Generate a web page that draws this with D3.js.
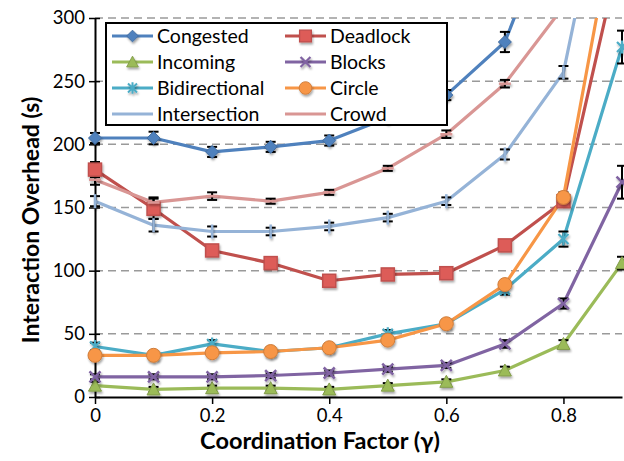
<!DOCTYPE html>
<html><head><meta charset="utf-8">
<script src="https://cdn.jsdelivr.net/npm/d3@7"></script>
<style>
html,body{margin:0;padding:0;background:#fff;}
svg{display:block;}
text{font-family:Lato, "Open Sans", sans-serif;}
</style></head>
<body>
<script>
const xValues = [0, 0.1, 0.2, 0.3, 0.4, 0.5, 0.6, 0.7, 0.8, 0.9];
const seriesNames = ["Congested","Deadlock","Incoming","Blocks","Bidirectional","Circle","Intersection","Crowd"];
const congested     = [205, 205, 194, 198, 203, 221, 239, 281, 400, 520];
const deadlock      = [180, 149, 116, 106, 92, 97, 98, 120, 155, 358];
const incoming      = [9, 6, 7, 7, 6, 9, 12, 21, 42, 106];
const blocks        = [16, 16, 16, 17, 19, 22, 25, 42, 74, 170];
const bidirectional = [40, 33, 42, 36, 39, 50, 58, 85, 125, 277];
const circle        = [33, 33, 35, 36, 39, 45, 58, 89, 158, 410];
const intersection  = [155, 136, 131, 131, 135, 142, 155, 192, 257, 480];
const crowd         = [172, 154, 159, 155, 162, 181, 208, 248, 309, 420];
const congestedErr     = [4, 5, 4, 4, 4, 4, 4, 8, 0, 0];
const deadlockErr      = [6, 8, 4, 3, 3, 3, 3, 3, 4, 0];
const incomingErr      = [3, 2, 2, 2, 2, 2, 2, 3, 3, 5];
const blocksErr        = [2, 2, 2, 2, 2, 2, 2, 3, 4, 13];
const bidirectionalErr = [3, 2, 3, 2, 2, 3, 3, 4, 6, 13];
const circleErr        = [2, 2, 2, 2, 2, 2, 2, 3, 4, 0];
const intersectionErr  = [4, 5, 4, 3, 3, 3, 3, 4, 5, 0];
const crowdErr         = [4, 4, 3, 2, 2, 2, 3, 3, 0, 0];
const yTicks = [0, 50, 100, 150, 200, 250, 300];
const xTicks = [0, 0.2, 0.4, 0.6, 0.8];
const xTitle = "Coordination Factor (γ)";
const yTitle = "Interaction Overhead (s)";

const seriesValues = [congested, deadlock, incoming, blocks, bidirectional, circle, intersection, crowd];
const seriesErrors = [congestedErr, deadlockErr, incomingErr, blocksErr, bidirectionalErr, circleErr, intersectionErr, crowdErr];
const colors = ["#4F81BD","#C0504D","#9BBB59","#8064A2","#4BACC6","#F79646","#95B3D7","#D99694"];
const markers = ["diamond","square","triangle","x","asterisk","circle","plus","dash"];

const W = 624, H = 461;
const svg = d3.select("body").append("svg").attr("width", W).attr("height", H);

const x = d3.scaleLinear().domain([0, 0.9]).range([95, 622]);
const y = d3.scaleLinear().domain([0, 300]).range([397, 18]);

const defs = svg.append("defs");
defs.append("clipPath").attr("id","plotclip").append("rect")
  .attr("x", 0).attr("y", y(300)).attr("width", W).attr("height", y(0) - y(300) + 20);
const f = defs.append("filter").attr("id","shadow").attr("x","-50%").attr("y","-50%").attr("width","200%").attr("height","200%");
f.append("feDropShadow").attr("dx",1).attr("dy",2).attr("stdDeviation",1.2).attr("flood-color","#000").attr("flood-opacity",0.35);

// gridlines
svg.append("g").selectAll("line").data(yTicks.filter(d => d > 0)).join("line")
  .attr("x1", x(0)).attr("x2", x(0.9)).attr("y1", d => y(d)).attr("y2", d => y(d))
  .attr("stroke", "#9a9a9a").attr("stroke-width", 1.5).attr("stroke-dasharray", "8,5");

// axes
const yAxis = d3.axisLeft(y).tickValues(yTicks).tickSizeInner(6).tickSizeOuter(0).tickPadding(4);
const gy = svg.append("g").attr("transform", `translate(${x(0)},0)`).call(yAxis);
gy.select(".domain").attr("stroke","#000").attr("stroke-width",2);
gy.selectAll(".tick line").attr("stroke","#000").attr("stroke-width",1.5).attr("x2",-6).attr("x1",5);
gy.selectAll(".tick text").attr("font-size",18.5).attr("fill","#000").attr("x",-10);

const gx = svg.append("g").attr("transform", `translate(0,${y(0)})`).call(d3.axisBottom(x).tickValues(xTicks)
  .tickFormat(d => d === 0 ? "0" : d3.format(".1f")(d)).tickSizeInner(7).tickSizeOuter(0).tickPadding(5));
gx.select(".domain").attr("stroke","#000").attr("stroke-width",2);
gx.selectAll(".tick line").attr("stroke","#000").attr("stroke-width",1.5);
gx.selectAll(".tick text").attr("font-size",18.5).attr("fill","#000");

// titles
svg.append("text").attr("x", 320).attr("y", 449).attr("text-anchor","middle")
  .attr("font-size", 23.5).attr("font-weight","bold").attr("fill","#000").text(xTitle);
svg.append("text").attr("transform","translate(39,220) rotate(-90)").attr("text-anchor","middle")
  .attr("font-size", 23).attr("font-weight","bold").attr("fill","#000").text(yTitle);

function drawMarker(g, type, color, cx, cy, scale) {
  const s = scale || 1;
  const t = g.append("g").attr("transform", `translate(${cx},${cy}) scale(${s})`);
  const dark = d3.color(color).darker(0.5).formatHex();
  if (type === "diamond") {
    t.append("path").attr("d","M0,-6.5L6.5,0L0,6.5L-6.5,0Z").attr("fill",color).attr("stroke",dark).attr("stroke-width",1);
  } else if (type === "square") {
    t.append("rect").attr("x",-6.5).attr("y",-6.5).attr("width",13).attr("height",13).attr("fill",d3.color(color).brighter(0.4).formatHex()).attr("stroke",color).attr("stroke-width",1.5);
  } else if (type === "triangle") {
    t.append("path").attr("d","M0,-6.5L6.5,5.5L-6.5,5.5Z").attr("fill",color).attr("stroke",dark).attr("stroke-width",1);
  } else if (type === "x") {
    t.append("path").attr("d","M-5.5,-5.5L5.5,5.5M-5.5,5.5L5.5,-5.5").attr("stroke",color).attr("stroke-width",2.5);
  } else if (type === "asterisk") {
    t.append("path").attr("d","M-5,-5L5,5M-5,5L5,-5M0,-6.5L0,6.5").attr("stroke",color).attr("stroke-width",2.2);
  } else if (type === "circle") {
    t.append("circle").attr("r",7).attr("fill",color).attr("stroke",dark).attr("stroke-width",1);
  } else if (type === "plus") {
    t.append("path").attr("d","M0,-7L0,7").attr("stroke",color).attr("stroke-width",2.5);
  } else if (type === "dash") {
    t.append("path").attr("d","M-6,0L6,0").attr("stroke",color).attr("stroke-width",2.5);
  }
}

const plot = svg.append("g").attr("clip-path","url(#plotclip)");
const line = d3.line().x((d,i) => x(xValues[i])).y(d => y(d));

seriesValues.forEach((vals, si) => {
  plot.append("path").datum(vals).attr("d", line).attr("fill","none")
    .attr("stroke", colors[si]).attr("stroke-width", 3.2).attr("stroke-linejoin","round");
});
seriesValues.forEach((vals, si) => {
  const errs = seriesErrors[si];
  vals.forEach((v, i) => {
    const e = errs[i];
    if (!e || v > 300) return;
    const cx = x(xValues[i]);
    const g = plot.append("g").attr("stroke","#000").attr("stroke-width",2);
    g.append("line").attr("x1",cx).attr("x2",cx).attr("y1",y(v+e)).attr("y2",y(v-e));
    g.append("line").attr("x1",cx-5).attr("x2",cx+5).attr("y1",y(v+e)).attr("y2",y(v+e));
    g.append("line").attr("x1",cx-5).attr("x2",cx+5).attr("y1",y(v-e)).attr("y2",y(v-e));
  });
});
seriesValues.forEach((vals, si) => {
  const mg = plot.append("g").attr("filter","url(#shadow)");
  vals.forEach((v, i) => {
    if (v > 300) return;
    drawMarker(mg, markers[si], colors[si], x(xValues[i]), y(v));
  });
});

// legend
const lg = svg.append("g");
lg.append("rect").attr("x",106).attr("y",23).attr("width",341).attr("height",102)
  .attr("fill","#fff").attr("stroke","#000").attr("stroke-width",2);
seriesNames.forEach((name, si) => {
  const col = si % 2, row = Math.floor(si / 2);
  const lx = col === 0 ? 112 : 285;
  const ly = 36 + row * 26;
  lg.append("line").attr("x1",lx).attr("x2",lx+41).attr("y1",ly).attr("y2",ly)
    .attr("stroke",colors[si]).attr("stroke-width",3.2);
  const mg = lg.append("g").attr("filter","url(#shadow)");
  drawMarker(mg, markers[si], colors[si], lx + 20.5, ly, 0.9);
  lg.append("text").attr("x", lx + 45).attr("y", ly).attr("dy","0.35em")
    .attr("font-size",19.5).attr("fill","#000").text(name);
});
</script>
</body></html>
